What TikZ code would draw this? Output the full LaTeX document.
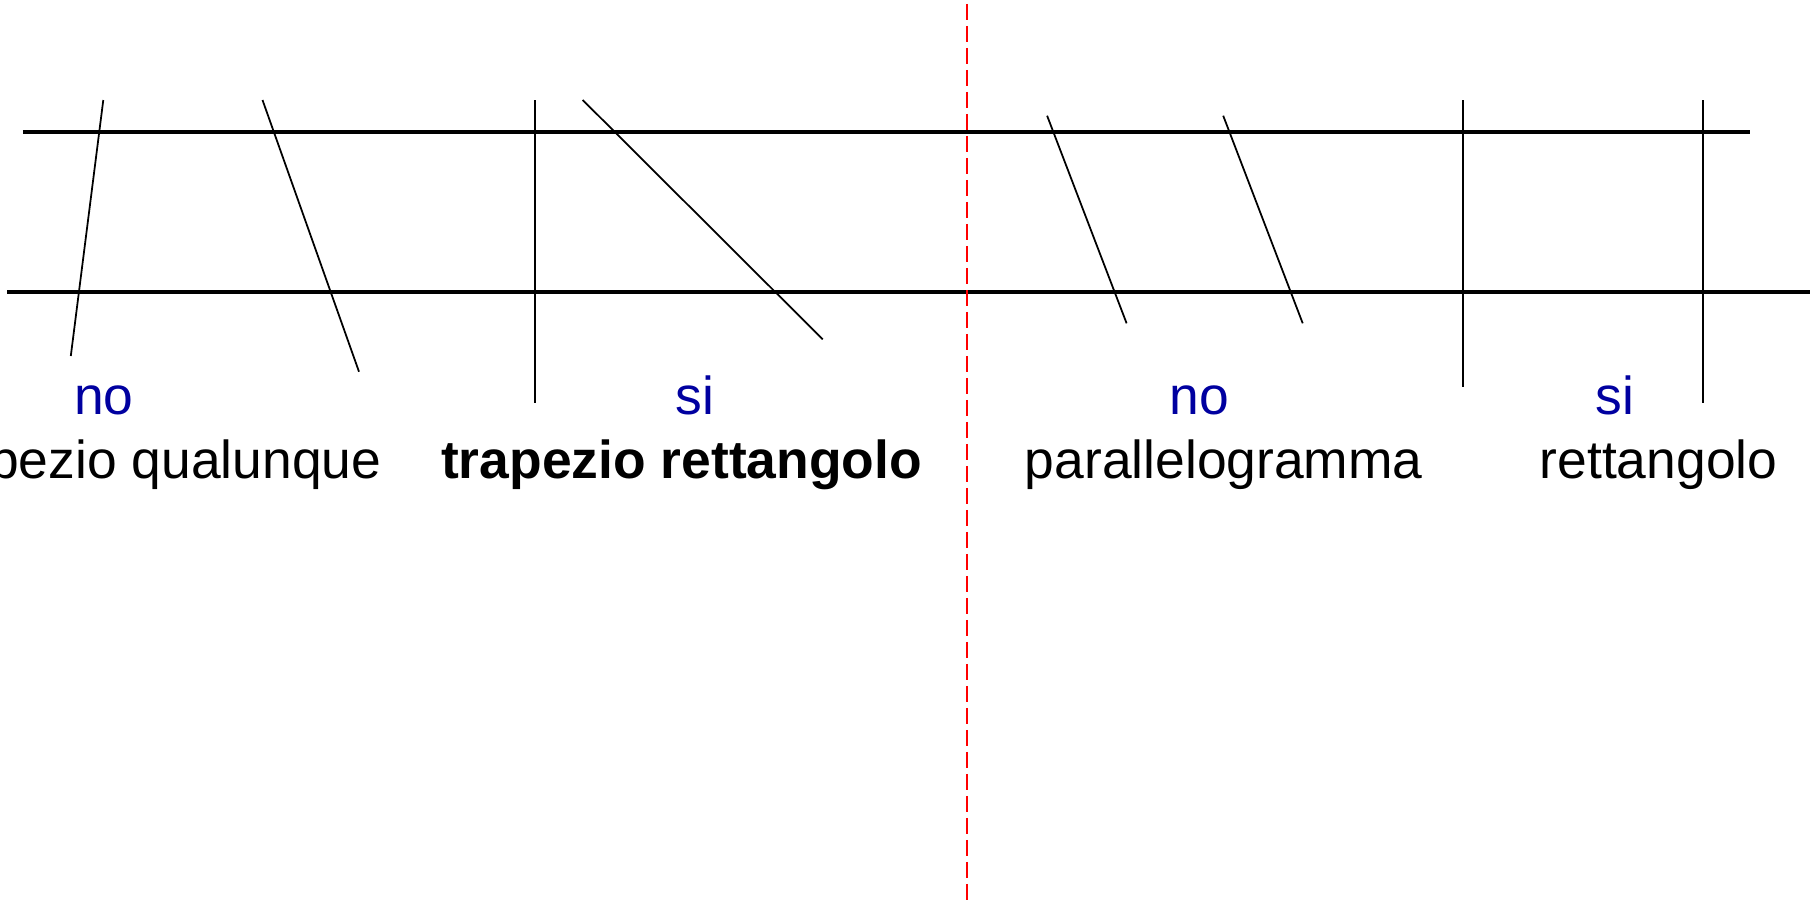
\documentclass[tikz,border=0pt]{standalone}
\usepackage{fontspec}
\setmainfont{Liberation Sans}
\definecolor{ansblue}{HTML}{0000A0}
\definecolor{cutred}{HTML}{FF0000}

\begin{document}
\begin{tikzpicture}[font=\fontsize{15.2}{18}\selectfont,
parallel/.style={line width=1.2pt},
side/.style={line width=0.5pt},
answertext/.style={ansblue,inner sep=0pt,anchor=base},
shapename/.style={inner sep=0pt,anchor=base}]
  \useasboundingbox (0,0) rectangle (18.1,-9);
  % the two parallel lines
  \draw[parallel] (0.23,-1.317) -- (17.50,-1.317);
  \draw[parallel] (0.07,-2.917) -- (18.20,-2.917);
  % sides cutting the parallels
  \draw[side] (1.033,-1.00) -- (0.708,-3.56);
  \draw[side] (2.625,-1.00) -- (3.59,-3.717);
  \draw[side] (5.35,-1.00) -- (5.35,-4.033);
  \draw[side] (5.827,-1.00) -- (8.227,-3.393);
  \draw[side] (10.471,-1.157) -- (11.266,-3.233);
  \draw[side] (12.232,-1.157) -- (13.027,-3.233);
  \draw[side] (14.629,-1.00) -- (14.629,-3.873);
  \draw[side] (17.026,-1.00) -- (17.026,-4.033);
  % separator
  \draw[cutred,line width=0.6pt,dash pattern=on 4.46pt off 1.8pt,dash phase=-1.1pt] (9.667,0) -- (9.667,-9);
  \node[answertext] (noA) at (1.04,-4.143) {no};
  \node[answertext] (siA) at (6.947,-4.143) {si};
  \node[answertext] (noB) at (11.996,-4.143) {no};
  \node[answertext] (siB) at (16.148,-4.143) {si};
  \node[shapename,anchor=base east] (trq) at (3.82,-4.78) {trapezio qualunque};
  \node[shapename] (trr) at (6.816,-4.78) {\bfseries trapezio rettangolo};
  \node[shapename] (par) at (12.238,-4.78) {parallelogramma};
  \node[shapename] (ret) at (16.585,-4.78) {rettangolo};
\end{tikzpicture}
\end{document}
